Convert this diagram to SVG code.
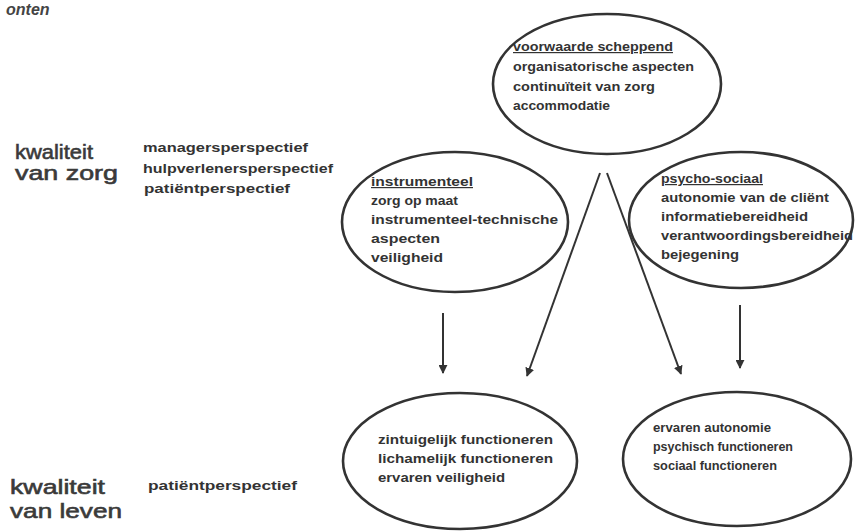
<svg xmlns="http://www.w3.org/2000/svg" width="855" height="531" viewBox="0 0 855 531">
<style>
.bg{fill:#ffffff}
.el{fill:none;stroke:#333;stroke-width:2.6}
.t{font-family:"Liberation Sans",Arial,sans-serif;font-weight:bold;font-size:12px;fill:#333}
.u{text-decoration:underline}
.big{font-family:"Liberation Sans",Arial,sans-serif;font-size:21px;fill:#3a3a3a;stroke:#3a3a3a;stroke-width:0.6}
.con{stroke:#333;stroke-width:2;fill:none}
</style>
<defs>
<marker id="ah" viewBox="0 0 10 10" refX="9" refY="5" markerWidth="9" markerHeight="9" markerUnits="userSpaceOnUse" orient="auto">
<path d="M0,0 L10,5 L0,10 Z" fill="#333"/>
</marker>
</defs>
<rect class="bg" x="0" y="0" width="855" height="531"/>
<text x="6" y="15" font-family="Liberation Sans,Arial,sans-serif" font-style="italic" font-weight="bold" font-size="16" fill="#444">onten</text>
<g id="labels">
<text class="big" x="15" y="159" textLength="78" lengthAdjust="spacingAndGlyphs">kwaliteit</text>
<text class="big" x="15" y="180" textLength="103" lengthAdjust="spacingAndGlyphs">van zorg</text>
<text class="t" x="143" y="152" textLength="165" lengthAdjust="spacingAndGlyphs">managersperspectief</text>
<text class="t" x="143" y="173" textLength="190" lengthAdjust="spacingAndGlyphs">hulpverlenersperspectief</text>
<text class="t" x="144" y="193" textLength="146" lengthAdjust="spacingAndGlyphs">patiëntperspectief</text>
<text class="big" x="10" y="494" font-size="22" textLength="95" lengthAdjust="spacingAndGlyphs">kwaliteit</text>
<text class="big" x="10" y="518" font-size="22" textLength="112" lengthAdjust="spacingAndGlyphs">van leven</text>
<text class="t" x="148" y="490" textLength="149" lengthAdjust="spacingAndGlyphs">patiëntperspectief</text>
</g>
<g id="node-voorwaarde">
<ellipse class="el" cx="607" cy="84" rx="114" ry="70"/>
<text class="t u" x="513" y="51" textLength="160" lengthAdjust="spacingAndGlyphs">voorwaarde scheppend</text>
<text class="t" x="513" y="71" textLength="181" lengthAdjust="spacingAndGlyphs">organisatorische aspecten</text>
<text class="t" x="513" y="91" textLength="142" lengthAdjust="spacingAndGlyphs">continuïteit van zorg</text>
<text class="t" x="513" y="110" textLength="97" lengthAdjust="spacingAndGlyphs">accommodatie</text>
</g>
<g id="node-instrumenteel">
<ellipse class="el" cx="455" cy="222" rx="113" ry="70"/>
<text class="t u" x="371" y="186" textLength="102" lengthAdjust="spacingAndGlyphs">instrumenteel</text>
<text class="t" x="371" y="205" textLength="87" lengthAdjust="spacingAndGlyphs">zorg op maat</text>
<text class="t" x="371" y="224" textLength="187" lengthAdjust="spacingAndGlyphs">instrumenteel-technische</text>
<text class="t" x="371" y="243" textLength="69" lengthAdjust="spacingAndGlyphs">aspecten</text>
<text class="t" x="371" y="262" textLength="72" lengthAdjust="spacingAndGlyphs">veiligheid</text>
</g>
<g id="node-psychosociaal">
<ellipse class="el" cx="741" cy="220" rx="112" ry="68"/>
<text class="t u" x="661" y="183" textLength="102" lengthAdjust="spacingAndGlyphs">psycho-sociaal</text>
<text class="t" x="661" y="202" textLength="168" lengthAdjust="spacingAndGlyphs">autonomie van de cliënt</text>
<text class="t" x="661" y="221" textLength="147" lengthAdjust="spacingAndGlyphs">informatiebereidheid</text>
<text class="t" x="661" y="240" textLength="192" lengthAdjust="spacingAndGlyphs">verantwoordingsbereidheid</text>
<text class="t" x="661" y="259" textLength="78" lengthAdjust="spacingAndGlyphs">bejegening</text>
</g>
<g id="node-functioneren">
<ellipse class="el" cx="460" cy="461" rx="117" ry="68"/>
<text class="t" x="378" y="444" textLength="175" lengthAdjust="spacingAndGlyphs">zintuigelijk functioneren</text>
<text class="t" x="378" y="463" textLength="175" lengthAdjust="spacingAndGlyphs">lichamelijk functioneren</text>
<text class="t" x="378" y="482" textLength="127" lengthAdjust="spacingAndGlyphs">ervaren veiligheid</text>
</g>
<g id="node-autonomie">
<ellipse class="el" cx="737" cy="459" rx="114" ry="67"/>
<text class="t" x="653" y="432" textLength="118" lengthAdjust="spacingAndGlyphs">ervaren autonomie</text>
<text class="t" x="653" y="451" textLength="140" lengthAdjust="spacingAndGlyphs">psychisch functioneren</text>
<text class="t" x="653" y="470" textLength="124" lengthAdjust="spacingAndGlyphs">sociaal functioneren</text>
</g>
<g id="connectors">
<line class="con" x1="443" y1="313" x2="443" y2="373" marker-end="url(#ah)"/>
<line class="con" x1="600" y1="173" x2="527" y2="376" marker-end="url(#ah)"/>
<line class="con" x1="607" y1="173" x2="681" y2="374" marker-end="url(#ah)"/>
<line class="con" x1="740" y1="305" x2="740" y2="368" marker-end="url(#ah)"/>
</g>
</svg>
